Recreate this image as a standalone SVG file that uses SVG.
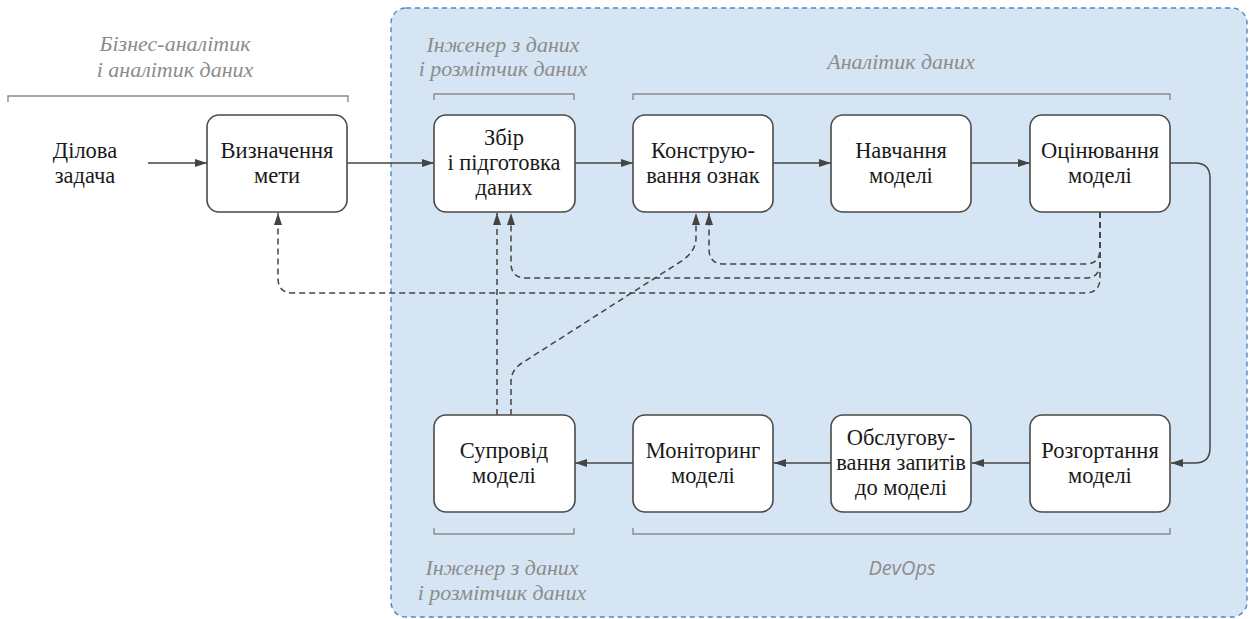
<svg xmlns="http://www.w3.org/2000/svg" width="1252" height="619" viewBox="0 0 1252 619">
<style>
.bg{fill:#ffffff}
.zone{fill:#d5e5f3;stroke:#4d88c4;stroke-width:1.4;stroke-dasharray:5 4}
.box{fill:#ffffff;stroke:#4a4a4a;stroke-width:1.6}
.t{font-family:"Liberation Serif","Times New Roman",serif;font-size:22.5px;fill:#1a1a1a;text-anchor:middle}
.role{font-family:"Liberation Serif","Times New Roman",serif;font-style:italic;font-size:22px;fill:#8c8c8c;text-anchor:middle}
.role2{font-family:"Open Sans","Liberation Sans",sans-serif;font-style:italic;font-size:20px;fill:#8c8c8c;text-anchor:middle}
.br{fill:none;stroke:#8c8c8c;stroke-width:1.4}
.ln{fill:none;stroke:#444;stroke-width:1.5}
.dl{fill:none;stroke:#444;stroke-width:1.5;stroke-dasharray:6 4}
</style>
<defs>
<marker id="ah" viewBox="0 0 12 8" refX="12" refY="4" markerWidth="12" markerHeight="8" markerUnits="userSpaceOnUse" orient="auto">
<path d="M0,0 L12,4 L0,8 Z" fill="#444"/>
</marker>
</defs>
<rect class="bg" x="0" y="0" width="1252" height="619"/>
<rect id="zone" class="zone" x="391" y="8" width="856" height="609" rx="15"/>

<g id="brackets">
<path class="br" d="M8,102 V96 H348 V102"/>
<path class="br" d="M434,100 V94 H574 V100"/>
<path class="br" d="M633,100 V94 H1170 V100"/>
<path class="br" d="M434,528 V534 H574 V528"/>
<path class="br" d="M633,528 V534 H1170 V528"/>
</g>

<g id="roles">
<text class="role" x="175" y="51">Бізнес-аналітик</text>
<text class="role" x="175" y="77">і аналітик даних</text>
<text class="role" x="503" y="52">Інженер з даних</text>
<text class="role" x="503" y="76">і розмітчик даних</text>
<text class="role" x="901" y="69">Аналітик даних</text>
<text class="role" x="502" y="575">Інженер з даних</text>
<text class="role" x="502" y="600">і розмітчик даних</text>
<text class="role2" x="902" y="575">DevOps</text>
</g>

<g id="connectors">
<path class="ln" d="M148,163 H207" marker-end="url(#ah)"/>
<path class="ln" d="M347,163 H434" marker-end="url(#ah)"/>
<path class="ln" d="M575,163 H633" marker-end="url(#ah)"/>
<path class="ln" d="M773,163 H831" marker-end="url(#ah)"/>
<path class="ln" d="M971,163 H1030" marker-end="url(#ah)"/>
<path class="ln" d="M1170,163 H1195 Q1210,163 1210,178 V448 Q1210,463 1195,463 H1171" marker-end="url(#ah)"/>
<path class="ln" d="M1030,463 H972" marker-end="url(#ah)"/>
<path class="ln" d="M831,463 H774" marker-end="url(#ah)"/>
<path class="ln" d="M633,463 H575" marker-end="url(#ah)"/>
<path class="dl" d="M1100,212 V278 Q1100,293 1085,293 H293 Q278,293 278,278 V213" marker-end="url(#ah)"/>
<path class="dl" d="M1100,212 V263 Q1100,278 1085,278 H526 Q511,278 511,263 V213" marker-end="url(#ah)"/>
<path class="dl" d="M1100,212 V249 Q1100,264 1085,264 H724 Q709,264 709,249 V213" marker-end="url(#ah)"/>
<path class="dl" d="M497,415 V213" marker-end="url(#ah)"/>
<path class="dl" d="M511,415 V382 Q511,370 522,363 L680,262 Q696,252 696,238 V213" marker-end="url(#ah)"/>
</g>

<g id="n-task"><text class="t" x="85" y="158">Ділова</text><text class="t" x="85" y="183">задача</text></g>
<g id="n-goal"><rect class="box" x="207" y="115" width="140" height="97" rx="12"/><text class="t" x="277" y="158">Визначення</text><text class="t" x="277" y="183">мети</text></g>
<g id="n-collect"><rect class="box" x="434" y="115" width="141" height="97" rx="12"/><text class="t" x="504" y="145">Збір</text><text class="t" x="504" y="170">і підготовка</text><text class="t" x="504" y="195">даних</text></g>
<g id="n-features"><rect class="box" x="633" y="115" width="140" height="97" rx="12"/><text class="t" x="703" y="158">Конструю-</text><text class="t" x="703" y="183">вання ознак</text></g>
<g id="n-train"><rect class="box" x="831" y="115" width="140" height="97" rx="12"/><text class="t" x="901" y="158">Навчання</text><text class="t" x="901" y="183">моделі</text></g>
<g id="n-eval"><rect class="box" x="1030" y="115" width="140" height="97" rx="12"/><text class="t" x="1100" y="158">Оцінювання</text><text class="t" x="1100" y="183">моделі</text></g>
<g id="n-maint"><rect class="box" x="434" y="415" width="141" height="97" rx="12"/><text class="t" x="504" y="458">Супровід</text><text class="t" x="504" y="483">моделі</text></g>
<g id="n-monitor"><rect class="box" x="633" y="415" width="140" height="97" rx="12"/><text class="t" x="703" y="458">Моніторинг</text><text class="t" x="703" y="483">моделі</text></g>
<g id="n-serve"><rect class="box" x="831" y="415" width="140" height="97" rx="12"/><text class="t" x="901" y="445">Обслугову-</text><text class="t" x="901" y="470">вання запитів</text><text class="t" x="901" y="495">до моделі</text></g>
<g id="n-deploy"><rect class="box" x="1030" y="415" width="140" height="97" rx="12"/><text class="t" x="1100" y="458">Розгортання</text><text class="t" x="1100" y="483">моделі</text></g>
</svg>
